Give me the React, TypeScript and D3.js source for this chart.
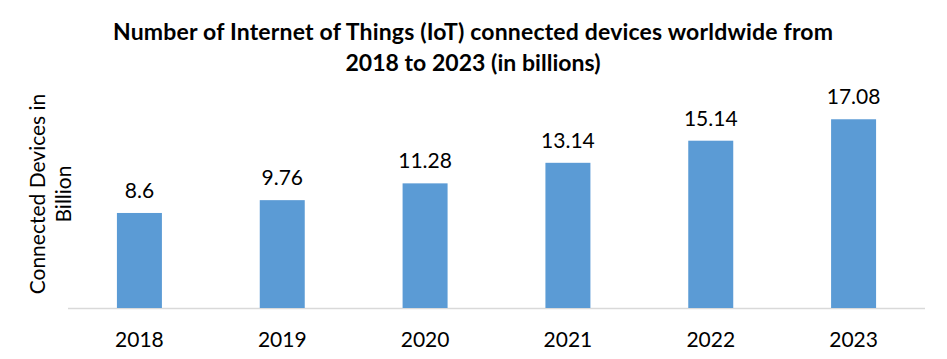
import React from "react";
import * as d3 from "d3";

const years = ["2018", "2019", "2020", "2021", "2022", "2023"];
const devices = [8.6, 9.76, 11.28, 13.14, 15.14, 17.08];
const titleLines = [
  "Number of Internet of Things (IoT) connected devices worldwide from",
  "2018 to 2023 (in billions)",
];
const titleWidths = [720, 255];
const yLabelLines = ["Connected Devices in", "Billion"];

const W = 947;
const H = 359;
const FONT = "Lato, 'Open Sans', sans-serif";

export default function App() {
  const x = d3.scaleBand<string>().domain(years).range([68, 925]).paddingInner(0.685).paddingOuter(0.3425);
  const y = d3.scaleLinear().domain([0, 20]).range([308, 87]);
  return (
    <svg width={W} height={H} style={{ position: "absolute", left: 0, top: 0, background: "#fff" }}>
      <rect x={0} y={0} width={W} height={H} fill="#fff" />
      {titleLines.map((t, i) => (
        <text key={i} x={473} y={40 + i * 31} textAnchor="middle" fontFamily={FONT} fontWeight="bold" fontSize={23} fill="#000" textLength={titleWidths[i]} lengthAdjust="spacing">
          {t}
        </text>
      ))}
      {yLabelLines.map((t, i) => (
        <text key={i} transform={`translate(${45 + i * 26},${194}) rotate(-90)`} textAnchor="middle" fontFamily={FONT} fontSize={21} fill="#000">
          {t}
        </text>
      ))}
      <line x1={68} x2={925} y1={308.5} y2={308.5} stroke="#d9d9d9" strokeWidth={1.5} />
      {devices.map((v, i) => {
        const bx = x(years[i])!;
        return (
          <g key={years[i]}>
            <rect x={bx} y={y(v)} width={x.bandwidth()} height={308 - y(v)} fill="#5B9BD5" />
            <text x={bx + x.bandwidth() / 2} y={y(v) - 15} textAnchor="middle" fontFamily={FONT} fontSize={21} fill="#000">
              {String(v)}
            </text>
            <text x={bx + x.bandwidth() / 2} y={347} textAnchor="middle" fontFamily={FONT} fontSize={21} fill="#000">
              {years[i]}
            </text>
          </g>
        );
      })}
    </svg>
  );
}
